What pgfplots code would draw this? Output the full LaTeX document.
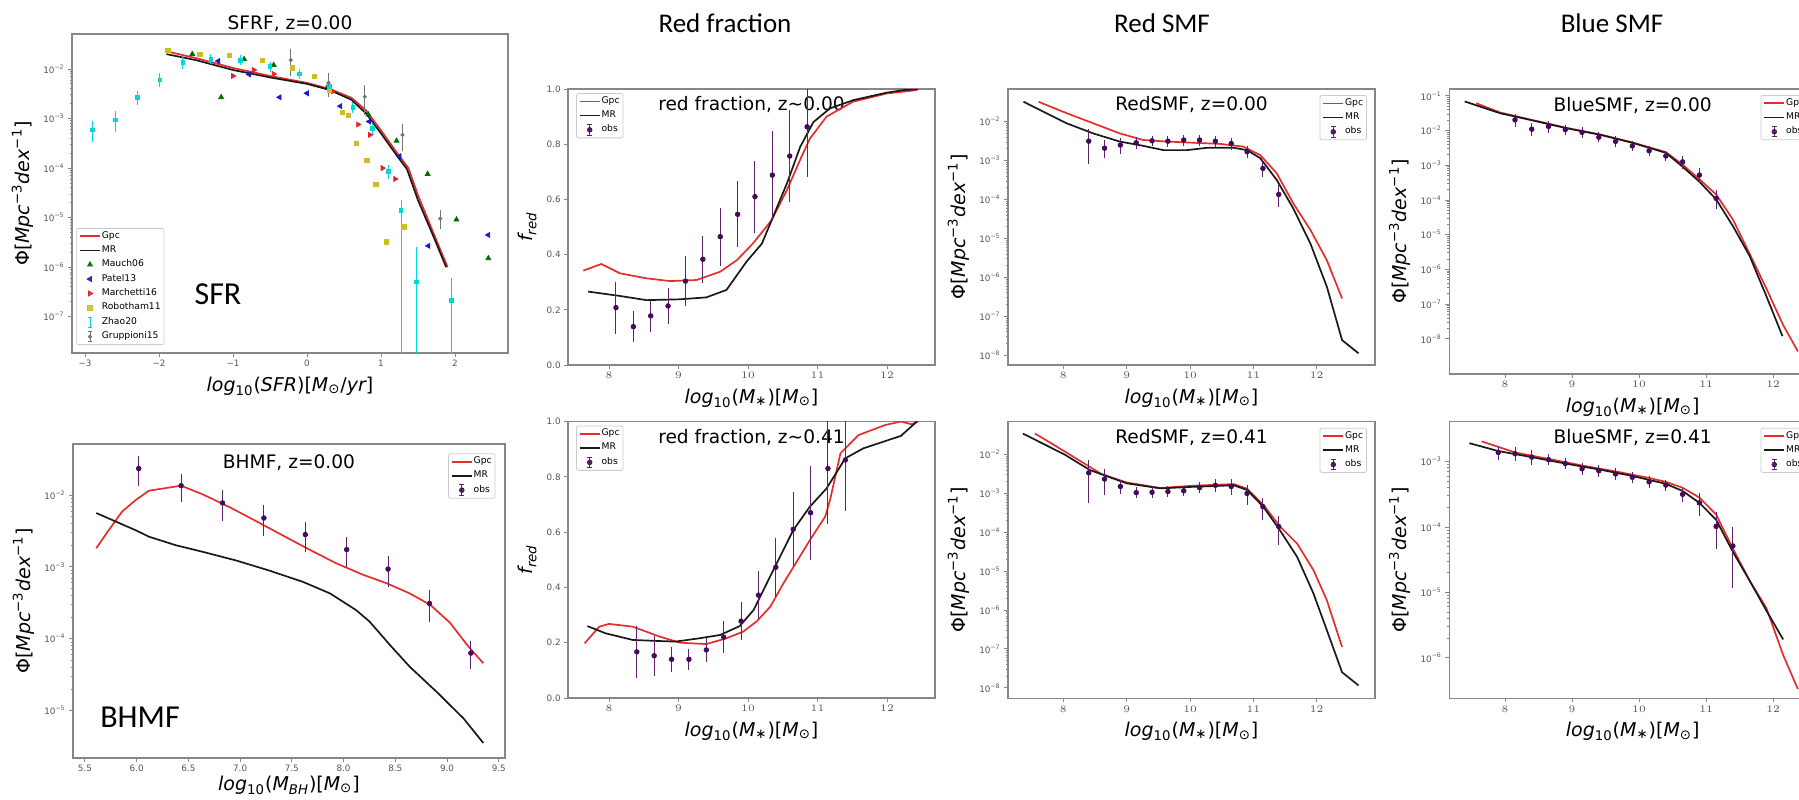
\documentclass[border=0pt]{standalone}
\usepackage{fontspec}
\setmainfont{DejaVu Sans}
\newfontfamily\calibri{Carlito}
\usepackage{pgfplots}
\pgfplotsset{compat=1.18}

\definecolor{gpc}{RGB}{230,45,45}
\definecolor{mr}{RGB}{25,25,25}
\definecolor{obsfill}{RGB}{70,10,90}
\definecolor{obsbar}{RGB}{95,35,105}
\definecolor{spine}{RGB}{135,135,135}
\definecolor{ticktext}{RGB}{85,85,85}
\definecolor{mauch}{RGB}{0,110,0}
\definecolor{patel}{RGB}{25,25,200}
\definecolor{march}{RGB}{230,35,35}
\definecolor{robot}{RGB}{205,190,40}
\definecolor{zhao}{RGB}{0,215,215}
\definecolor{grup}{RGB}{115,115,115}

\newcommand\tickfont{\fontsize{4.4}{5}\selectfont}
\newcommand\legfont{\fontsize{4.6}{5}\selectfont}
\newcommand\titlefont{\fontsize{9.3}{11}\selectfont}
\newcommand\labfont{\fontsize{9.5}{11}\selectfont}
\newcommand\headfont{\calibri\fontsize{13.5}{15}\selectfont}
\newcommand\bigfont{\calibri\fontsize{16}{18}\selectfont}

% log tick labels as 10^n in the text font
\newcommand\logtick{\pgfmathparse{round(\tick/2.302585093)}\pgfmathtruncatemacro\ex{\pgfmathresult}10\textsuperscript{\ifnum\ex<0 −\number-\ex\else\ex\fi}}

\newcommand\philab{Φ[{\itshape Mpc}\textsuperscript{−3}{\itshape dex}\textsuperscript{−1}]}
\newcommand\mstarlab{{\itshape log}\textsubscript{10}({\itshape M}\textsubscript{∗})[{\itshape M}\textsubscript{⊙}]}
\newcommand\fredlab{{\itshape f}\textsubscript{\itshape red}}

\pgfplotsset{
  panel/.style={
    scale only axis, anchor=south west,
    axis line style={draw=spine, line width=0.6pt},
    tick align=outside, tick pos=left,
    major tick length=2pt, minor tick length=1.1pt,
    tick style={draw=spine, line width=0.45pt},
    tick label style={font=\tickfont, text=ticktext},
    xticklabel style={inner sep=1.5pt},
    yticklabel style={inner sep=1.5pt},
    label style={font=\labfont},
    legend cell align=left,
    legend style={font=\legfont, draw=black!20, rounded corners=1pt, fill=white,
      fill opacity=0.85, text opacity=1, inner xsep=1.2pt, inner ysep=1pt,
      row sep=1.2pt, nodes={inner sep=0.5pt}},
    legend image code/.code={\draw[mark repeat=2,mark phase=2,##1] plot coordinates {(0pt,0pt) (5pt,0pt) (10pt,0pt)};},
  },
  gpcline/.style={color=gpc, line width=0.85pt, mark=none},
  mrline/.style={color=mr, line width=0.85pt, mark=none},
  obsmark/.style={only marks, mark=*, mark size=1.15pt, color=obsbar,
    mark options={fill=obsfill, draw=obsfill},
    error bars/y dir=both,
    error bars/error bar style={line width=0.5pt, obsbar},
    error bars/error mark options={line width=0.5pt, obsbar, mark size=1.4pt}},
  obslegend/.style={legend image code/.code={
    \draw[obsbar, line width=0.5pt] (5pt,-2.6pt) -- (5pt,2.6pt) (3.8pt,-2.6pt) -- (6.2pt,-2.6pt) (3.8pt,2.6pt) -- (6.2pt,2.6pt);
    \fill[obsfill] (5pt,0pt) circle (1.15pt);}},
}

\begin{document}
\begin{tikzpicture}
\path[use as bounding box] (0,0) rectangle (899.5pt,399.5pt);

% column headings
\node[font=\headfont] at (362.5pt,388pt) {Red fraction};
\node[font=\headfont] at (581pt,388pt) {Red SMF};
\node[font=\headfont] at (806pt,388pt) {Blue SMF};

% ---------------- SFR function ----------------
\node[anchor=base, font=\titlefont] at (145pt,384.5pt) {SFRF, z=0.00};
\begin{axis}[panel, ymode=log, yticklabel={\logtick},
  at={(36pt,223pt)}, width=218pt, height=159.5pt,
  xmin=-3.176, xmax=2.716, ymin=1.85e-8, ymax=0.0509,
  xtick={-3,-2,-1,0,1,2}, xticklabels={−3,−2,−1,0,1,2},
  ytick={1e-7,1e-6,1e-5,1e-4,1e-3,1e-2},
  xlabel={{\itshape log}\textsubscript{10}({\itshape SFR})[{\itshape M}\textsubscript{⊙}/{\itshape yr}]},
  ylabel={\philab},
  legend style={at={(0.01,0.025)}, anchor=south west}]
\addplot[gpcline] coordinates {(-1.85,2.19e-2) (-1.5,1.66e-2) (-1.0,1.05e-2) (-0.5,7.24e-3) (0,5.25e-3) (0.3,3.98e-3) (0.6,2.63e-3) (0.8,1.45e-3) (1.0,5.75e-4) (1.2,2.19e-4) (1.37,1.0e-4) (1.5,2.82e-5) (1.7,5.25e-6) (1.9,1.0e-6)};
\addlegendentry{Gpc}
\addplot[mrline] coordinates {(-1.9,2.0e-2) (-1.5,1.51e-2) (-1.0,9.55e-3) (-0.5,6.76e-3) (0,5.01e-3) (0.3,3.80e-3) (0.6,2.40e-3) (0.8,1.26e-3) (1.0,5.01e-4) (1.2,1.91e-4) (1.35,9.55e-5) (1.5,2.24e-5) (1.7,4.47e-6) (1.88,1.0e-6)};
\addlegendentry{MR}
\addplot[only marks, mark=triangle*, mark size=1.4pt, color=mauch] coordinates {(-1.55,2.0e-2) (-1.16,2.69e-3) (-0.85,1.58e-2) (-0.45,1.20e-2) (0.28,4.47e-3) (0.83,1.20e-3) (1.21,3.55e-4) (1.63,7.59e-5) (2.02,9.12e-6) (2.45,1.51e-6)};
\addlegendentry{Mauch06}
\addplot[only marks, mark=triangle*, mark size=1.4pt, mark options={rotate=90}, color=patel] coordinates {(-1.2,1.45e-2) (-0.78,7.76e-3) (-0.37,2.69e-3) (0.0,3.24e-3) (0.45,1.78e-3) (0.84,8.71e-4) (1.25,1.74e-4) (1.64,2.69e-6) (2.45,4.47e-6)};
\addlegendentry{Patel13}
\addplot[only marks, mark=triangle*, mark size=1.4pt, mark options={rotate=-90}, color=march] coordinates {(-1.0,7.24e-3) (-0.72,9.55e-3) (-0.45,7.94e-3) (0.35,3.55e-3) (0.69,7.59e-4) (0.85,4.68e-4) (1.02,1.0e-4) (1.19,6.03e-5)};
\addlegendentry{Marchetti16}
\addplot[only marks, mark=square*, mark size=1.1pt, color=robot] coordinates {(-1.88,2.40e-2) (-1.45,2.0e-2) (-1.05,1.86e-2) (-0.6,1.48e-2) (-0.2,1.05e-2) (0.1,7.08e-3) (0.3,3.80e-3) (0.48,1.32e-3) (0.56,1.17e-3) (0.67,3.16e-4) (0.81,1.41e-4) (0.93,4.68e-5) (1.07,3.24e-6) (1.31,6.46e-6)};
\addlegendentry{Robotham11}
\addplot[only marks, mark=square*, mark size=0.9pt, color=zhao,
  error bars/y dir=both, error bars/y explicit relative,
  error bars/error bar style={line width=0.5pt, zhao},
  error bars/error mark options={line width=0.5pt, zhao, mark size=1.4pt},
  legend image code/.code={\draw[zhao, line width=0.5pt] (5pt,-2.6pt) -- (5pt,2.6pt) (3.8pt,-2.6pt) -- (6.2pt,-2.6pt) (3.8pt,2.6pt) -- (6.2pt,2.6pt);}]
  coordinates {(-2.90,5.89e-4) +- (0,0.35) (-2.59,9.33e-4) +- (0,0.35) (-2.29,2.69e-3) +- (0,0.2) (-1.99,6.03e-3) +- (0,0.2) (-1.68,1.35e-2) +- (0,0.15) (-1.3,1.58e-2) +- (0,0.1) (-0.9,1.51e-2) +- (0,0.1) (-0.5,1.12e-2) +- (0,0.1) (-0.1,7.94e-3) +- (0,0.1) (0.3,4.47e-3) +- (0,0.1) (0.62,1.66e-3) +- (0,0.12) (0.88,6.31e-4) +- (0,0.15) (1.1,8.51e-5) +- (0,0.2) (1.27,1.41e-5) += (0,0.4) -= (0,0.9999) (1.48,5.01e-7) += (0,3.4) -= (0,0.9999) (1.95,2.14e-7) += (0,1.5) -= (0,0.9999)};
\addlegendentry{Zhao20}
\addplot[only marks, mark=*, mark size=0.8pt, color=grup,
  error bars/y dir=both, error bars/y explicit relative,
  error bars/error bar style={line width=0.5pt, grup},
  error bars/error mark options={line width=0.5pt, grup, mark size=1.4pt},
  legend image code/.code={\draw[grup, line width=0.5pt] (5pt,-2.6pt) -- (5pt,2.6pt) (3.8pt,-2.6pt) -- (6.2pt,-2.6pt) (3.8pt,2.6pt) -- (6.2pt,2.6pt); \fill[grup] (5pt,0pt) circle (0.8pt);}]
  coordinates {(-0.22,1.51e-2) +- (0,0.45) (0.29,5.25e-3) +- (0,0.4) (0.78,2.75e-3) +- (0,0.5) (1.29,4.68e-4) +- (0,0.45) (1.80,9.55e-6) +- (0,0.3)};
\addlegendentry{Gruppioni15}
\end{axis}
\node[font=\bigfont] at (109pt,252.5pt) {SFR};

% ---------------- BH mass function ----------------
\begin{axis}[panel, ymode=log, yticklabel={\logtick},
  at={(36.5pt,20.5pt)}, width=216pt, height=157pt,
  xmin=5.385, xmax=9.56, ymin=2.19e-6, ymax=5.13e-2,
  xtick={5.5,6,6.5,7,7.5,8,8.5,9,9.5},
  xticklabels={5.5,6.0,6.5,7.0,7.5,8.0,8.5,9.0,9.5},
  ytick={1e-5,1e-4,1e-3,1e-2},
  xlabel={{\itshape log}\textsubscript{10}({\itshape M}\textsubscript{\itshape BH})[{\itshape M}\textsubscript{⊙}]},
  xlabel style={yshift=3pt},
  ylabel={\philab},
  legend style={at={(0.978,0.97)}, anchor=north east}]
\node[font=\titlefont] at (rel axis cs:0.5,0.94) {BHMF, z=0.00};
\addplot[gpcline] coordinates {(5.61,1.82e-3) (5.73,3.24e-3) (5.86,5.89e-3) (5.99,8.51e-3) (6.12,1.15e-2) (6.25,1.23e-2) (6.43,1.35e-2) (6.64,1.02e-2) (6.90,6.76e-3) (7.15,4.37e-3) (7.41,2.75e-3) (7.67,1.74e-3) (7.93,1.12e-3) (8.19,7.76e-4) (8.42,5.89e-4) (8.64,4.27e-4) (8.84,2.95e-4) (9.03,1.66e-4) (9.2,8.0e-5) (9.35,4.57e-5)};
\addlegendentry{Gpc}
\addplot[mrline] coordinates {(5.61,5.62e-3) (5.99,3.24e-3) (6.12,2.63e-3) (6.38,2.0e-3) (6.64,1.62e-3) (6.96,1.23e-3) (7.28,8.91e-4) (7.61,6.17e-4) (7.87,4.27e-4) (8.12,2.51e-4) (8.25,1.74e-4) (8.45,8.13e-5) (8.64,4.07e-5) (8.90,1.82e-5) (9.16,7.76e-6) (9.35,3.55e-6)};
\addlegendentry{MR}
\addplot[obsmark, obslegend, error bars/y explicit relative] coordinates {(6.02,2.34e-2) +- (0,0.38) (6.43,1.35e-2) +- (0,0.35) (6.83,7.76e-3) +- (0,0.38) (7.23,4.79e-3) +- (0,0.38) (7.63,2.82e-3) +- (0,0.38) (8.03,1.74e-3) +- (0,0.38) (8.43,9.33e-4) +- (0,0.38) (8.83,3.09e-4) +- (0,0.4) (9.23,6.31e-5) +- (0,0.35)};
\addlegendentry{obs}
\end{axis}
\node[font=\bigfont] at (70pt,41pt) {BHMF};

% ---------------- red fraction, z=0.00 ----------------
\begin{axis}[panel, at={(284pt,217pt)}, width=183.5pt, height=138pt,
  xmin=7.41, xmax=12.69, ymin=0, ymax=1,
  xtick={8,9,10,11,12}, ytick={0,0.2,0.4,0.6,0.8,1},
  yticklabels={0.0,0.2,0.4,0.6,0.8,1.0},
  xlabel={\mstarlab}, ylabel={\fredlab},
  legend style={at={(0.022,0.985)}, anchor=north west}]
\node[font=\titlefont] at (rel axis cs:0.5,0.942) {red fraction, z\textasciitilde 0.00};
\addplot[gpcline] coordinates {(7.63,0.342) (7.89,0.366) (8.16,0.332) (8.54,0.314) (8.88,0.304) (9.26,0.308) (9.60,0.338) (9.84,0.38) (10.07,0.44) (10.34,0.525) (10.56,0.634) (10.77,0.755) (10.89,0.82) (11.13,0.90) (11.51,0.954) (12.0,0.984) (12.43,0.996)};
\addlegendentry{Gpc}
\addplot[mrline] coordinates {(7.70,0.266) (8.16,0.25) (8.54,0.235) (9.02,0.238) (9.40,0.245) (9.69,0.272) (9.98,0.375) (10.20,0.44) (10.36,0.537) (10.56,0.658) (10.75,0.79) (10.94,0.88) (11.18,0.93) (11.52,0.96) (12.0,0.987) (12.24,0.996) (12.45,1.0)};
\addlegendentry{MR}
\addplot[obsmark, obslegend, error bars/y explicit] coordinates {(8.1,0.208) +- (0,0.084) (8.35,0.139) +- (0,0.045) (8.6,0.178) +- (0,0.048) (8.85,0.214) +- (0,0.056) (9.1,0.304) +- (0,0.079) (9.35,0.383) +- (0,0.075) (9.6,0.465) +- (0,0.095) (9.85,0.546) +- (0,0.11) (10.1,0.610) +- (0,0.12) (10.35,0.688) +- (0,0.15) (10.6,0.757) +- (0,0.155) (10.85,0.863) +- (0,0.17)};
\addlegendentry{obs}
\end{axis}

% ---------------- red fraction, z=0.41 ----------------
\begin{axis}[panel, at={(284pt,50.5pt)}, width=183.5pt, height=138.25pt,
  xmin=7.41, xmax=12.69, ymin=0, ymax=1,
  xtick={8,9,10,11,12}, ytick={0,0.2,0.4,0.6,0.8,1},
  yticklabels={0.0,0.2,0.4,0.6,0.8,1.0},
  xlabel={\mstarlab}, ylabel={\fredlab},
  legend style={at={(0.022,0.985)}, anchor=north west}]
\node[font=\titlefont] at (rel axis cs:0.5,0.942) {red fraction, z\textasciitilde 0.41};
\addplot[gpcline] coordinates {(7.65,0.198) (7.86,0.258) (8.0,0.268) (8.34,0.258) (8.73,0.222) (9.02,0.20) (9.40,0.195) (9.69,0.216) (9.93,0.24) (10.12,0.276) (10.32,0.33) (10.51,0.415) (10.70,0.493) (10.89,0.571) (11.11,0.656) (11.18,0.716) (11.33,0.885) (11.59,0.951) (11.97,0.987) (12.2,1.0) (12.35,0.99) (12.45,1.0)};
\addlegendentry{Gpc}
\addplot[mrline] coordinates {(7.69,0.26) (7.95,0.234) (8.34,0.21) (8.73,0.206) (8.96,0.204) (9.30,0.216) (9.60,0.228) (9.88,0.26) (10.08,0.318) (10.27,0.415) (10.46,0.511) (10.65,0.607) (10.89,0.692) (11.13,0.758) (11.40,0.867) (11.66,0.903) (12.2,0.948) (12.43,1.0)};
\addlegendentry{MR}
\addplot[obsmark, obslegend, error bars/y explicit] coordinates {(8.4,0.167) +- (0,0.085) (8.65,0.153) +- (0,0.062) (8.9,0.14) +- (0,0.035) (9.15,0.14) +- (0,0.027) (9.4,0.174) +- (0,0.033) (9.65,0.22) +- (0,0.047) (9.9,0.278) +- (0,0.058) (10.15,0.372) +- (0,0.077) (10.4,0.473) +- (0,0.097) (10.65,0.61) +- (0,0.124) (10.9,0.67) +- (0,0.16) (11.15,0.83) +- (0,0.19) (11.4,0.861) +- (0,0.175)};
\addlegendentry{obs}
\end{axis}

% ---------------- red SMF, z=0.00 ----------------
\begin{axis}[panel, ymode=log, yticklabel={\logtick},
  at={(504pt,217pt)}, width=183.5pt, height=138pt,
  xmin=7.126, xmax=12.92, xtick={8,9,10,11,12},
  ymin=5.62e-9, ymax=6.92e-2,
  ytick={1e-8,1e-7,1e-6,1e-5,1e-4,1e-3,1e-2},
  xlabel={\mstarlab}, ylabel={\philab},
  legend style={at={(0.978,0.978)}, anchor=north east}]
\node[font=\titlefont] at (rel axis cs:0.5,0.942) {RedSMF, z=0.00};
\addplot[gpcline] coordinates {(7.61,3.24e-2) (8.05,1.66e-2) (8.47,9.12e-3) (8.89,5.01e-3) (9.26,3.39e-3) (9.63,3.09e-3) (10.05,2.88e-3) (10.47,2.69e-3) (10.84,2.29e-3) (11.11,1.38e-3) (11.37,4.68e-4) (11.63,7.94e-5) (11.9,1.66e-5) (12.16,2.75e-6) (12.4,2.88e-7)};
\addlegendentry{Gpc}
\addplot[mrline] coordinates {(7.37,3.27e-2) (7.68,1.82e-2) (8.05,9.12e-3) (8.47,5.01e-3) (8.89,3.09e-3) (9.26,2.40e-3) (9.58,1.86e-3) (9.95,1.86e-3) (10.27,2.14e-3) (10.69,2.14e-3) (10.9,1.86e-3) (11.11,1.15e-3) (11.37,3.16e-4) (11.63,5.89e-5) (11.9,7.41e-6) (12.16,5.75e-7) (12.40,2.45e-8) (12.66,1.12e-8)};
\addlegendentry{MR}
\addplot[obsmark, obslegend, error bars/y explicit relative] coordinates {(8.4,3.16e-3) +- (0,0.7) (8.65,2.09e-3) +- (0,0.35) (8.9,2.51e-3) +- (0,0.3) (9.15,2.88e-3) +- (0,0.2) (9.4,3.24e-3) +- (0,0.15) (9.65,3.16e-3) +- (0,0.15) (9.9,3.39e-3) +- (0,0.15) (10.15,3.39e-3) +- (0,0.15) (10.4,3.16e-3) +- (0,0.15) (10.65,2.75e-3) +- (0,0.2) (10.9,1.70e-3) +- (0,0.2) (11.15,6.31e-4) +- (0,0.3) (11.4,1.35e-4) +- (0,0.45)};
\addlegendentry{obs}
\end{axis}

% ---------------- red SMF, z=0.41 ----------------
\begin{axis}[panel, ymode=log, yticklabel={\logtick},
  at={(504pt,50.35pt)}, width=183.5pt, height=138.3pt,
  xmin=7.126, xmax=12.92, xtick={8,9,10,11,12},
  ymin=5.37e-9, ymax=7.0e-2,
  ytick={1e-8,1e-7,1e-6,1e-5,1e-4,1e-3,1e-2},
  xlabel={\mstarlab}, ylabel={\philab},
  legend style={at={(0.978,0.978)}, anchor=north east}]
\node[font=\titlefont] at (rel axis cs:0.5,0.942) {RedSMF, z=0.41};
\addplot[gpcline] coordinates {(7.55,3.47e-2) (7.81,1.95e-2) (8.40,5.01e-3) (8.6,3.16e-3) (9.0,1.91e-3) (9.53,1.38e-3) (10.05,1.58e-3) (10.69,1.74e-3) (10.9,1.32e-3) (11.16,5.01e-4) (11.42,1.41e-4) (11.69,5.13e-5) (11.95,1.05e-5) (12.16,1.78e-6) (12.4,1.12e-7)};
\addlegendentry{Gpc}
\addplot[mrline] coordinates {(7.36,3.47e-2) (8.02,1.0e-2) (8.42,3.98e-3) (9.0,1.82e-3) (9.53,1.35e-3) (10.05,1.48e-3) (10.69,1.62e-3) (10.9,1.23e-3) (11.16,4.47e-4) (11.42,1.12e-4) (11.69,2.34e-5) (11.95,2.63e-6) (12.16,3.02e-7) (12.40,2.51e-8) (12.66,1.15e-8)};
\addlegendentry{MR}
\addplot[obsmark, obslegend, error bars/y explicit relative] coordinates {(8.4,3.39e-3) +- (0,0.8) (8.65,2.34e-3) +- (0,0.55) (8.9,1.51e-3) +- (0,0.25) (9.15,1.05e-3) +- (0,0.15) (9.4,1.07e-3) +- (0,0.15) (9.65,1.12e-3) +- (0,0.15) (9.9,1.17e-3) +- (0,0.15) (10.15,1.41e-3) +- (0,0.15) (10.4,1.62e-3) +- (0,0.2) (10.65,1.51e-3) +- (0,0.3) (10.9,1.0e-3) +- (0,0.4) (11.15,4.57e-4) +- (0,0.45) (11.4,1.41e-4) +- (0,0.6)};
\addlegendentry{obs}
\end{axis}

% ---------------- blue SMF, z=0.00 ----------------
\begin{axis}[panel, ymode=log, yticklabel={\logtick},
  at={(724.65pt,212.5pt)}, width=183.35pt, height=142.5pt,
  xmin=7.17, xmax=12.64, xtick={8,9,10,11,12},
  ymin=9.77e-10, ymax=0.158,
  ytick={1e-8,1e-7,1e-6,1e-5,1e-4,1e-3,1e-2,1e-1},
  xlabel={\mstarlab}, ylabel={\philab},
  legend style={at={(0.978,0.979)}, anchor=north east}]
\node[font=\titlefont] at (rel axis cs:0.5,0.943) {BlueSMF, z=0.00};
\addplot[gpcline] coordinates {(7.57,6.17e-2) (7.93,3.31e-2) (8.42,2.0e-2) (8.92,1.20e-2) (9.42,7.76e-3) (9.90,4.57e-3) (10.40,2.40e-3) (10.65,1.05e-3) (10.90,3.98e-4) (11.15,1.45e-4) (11.40,2.75e-5) (11.65,2.82e-6) (11.90,2.82e-7) (12.15,2.51e-8) (12.37,4.37e-9)};
\addlegendentry{Gpc}
\addplot[mrline] coordinates {(7.40,6.92e-2) (7.93,3.16e-2) (8.42,1.95e-2) (8.92,1.17e-2) (9.42,7.59e-3) (9.90,4.47e-3) (10.40,2.29e-3) (10.65,9.12e-4) (10.90,3.39e-4) (11.15,1.05e-4) (11.40,1.78e-5) (11.65,2.45e-6) (11.90,1.70e-7) (12.14,1.20e-8)};
\addlegendentry{MR}
\addplot[obsmark, obslegend, error bars/y explicit relative] coordinates {(8.15,2.04e-2) +- (0,0.25) (8.4,1.10e-2) +- (0,0.25) (8.65,1.32e-2) +- (0,0.2) (8.9,1.07e-2) +- (0,0.15) (9.15,8.91e-3) +- (0,0.15) (9.4,6.46e-3) +- (0,0.15) (9.65,4.90e-3) +- (0,0.15) (9.9,3.63e-3) +- (0,0.15) (10.15,2.63e-3) +- (0,0.15) (10.4,1.86e-3) +- (0,0.15) (10.65,1.26e-3) +- (0,0.25) (10.9,5.25e-4) +- (0,0.3) (11.15,1.12e-4) +- (0,0.4)};
\addlegendentry{obs}
\end{axis}

% ---------------- blue SMF, z=0.41 ----------------
\begin{axis}[panel, ymode=log, yticklabel={\logtick},
  at={(724.65pt,50.35pt)}, width=183.35pt, height=138.3pt,
  xmin=7.17, xmax=12.64, xtick={8,9,10,11,12},
  ymin=2.40e-7, ymax=4.07e-3,
  ytick={1e-6,1e-5,1e-4,1e-3},
  xlabel={\mstarlab}, ylabel={\philab},
  legend style={at={(0.978,0.978)}, anchor=north east}]
\node[font=\titlefont] at (rel axis cs:0.5,0.942) {BlueSMF, z=0.41};
\addplot[gpcline] coordinates {(7.65,2.04e-3) (8.15,1.38e-3) (8.65,1.10e-3) (9.15,8.71e-4) (9.65,7.08e-4) (10.15,5.62e-4) (10.4,4.90e-4) (10.65,3.98e-4) (10.9,2.82e-4) (11.15,1.55e-4) (11.4,4.68e-5) (11.65,1.51e-5) (11.9,5.75e-6) (12.15,1.10e-6) (12.37,3.31e-7)};
\addlegendentry{Gpc}
\addplot[mrline] coordinates {(7.47,1.91e-3) (7.9,1.45e-3) (8.4,1.17e-3) (8.9,9.33e-4) (9.4,7.59e-4) (9.9,6.03e-4) (10.4,4.57e-4) (10.65,3.55e-4) (10.9,2.34e-4) (11.15,1.29e-4) (11.4,4.17e-5) (11.65,1.51e-5) (11.9,5.25e-6) (12.15,1.91e-6)};
\addlegendentry{MR}
\addplot[obsmark, obslegend, error bars/y explicit relative] coordinates {(7.9,1.38e-3) +- (0,0.15) (8.15,1.32e-3) +- (0,0.15) (8.4,1.17e-3) +- (0,0.15) (8.65,1.07e-3) +- (0,0.1) (8.9,9.33e-4) +- (0,0.1) (9.15,7.76e-4) +- (0,0.1) (9.4,7.24e-4) +- (0,0.1) (9.65,6.46e-4) +- (0,0.1) (9.9,5.75e-4) +- (0,0.1) (10.15,4.90e-4) +- (0,0.1) (10.4,4.37e-4) +- (0,0.1) (10.65,3.16e-4) +- (0,0.15) (10.9,2.34e-4) +- (0,0.3) (11.15,1.02e-4) +- (0,0.5) (11.4,5.13e-5) +- (0,0.75)};
\addlegendentry{obs}
\end{axis}
\end{tikzpicture}
\end{document}
